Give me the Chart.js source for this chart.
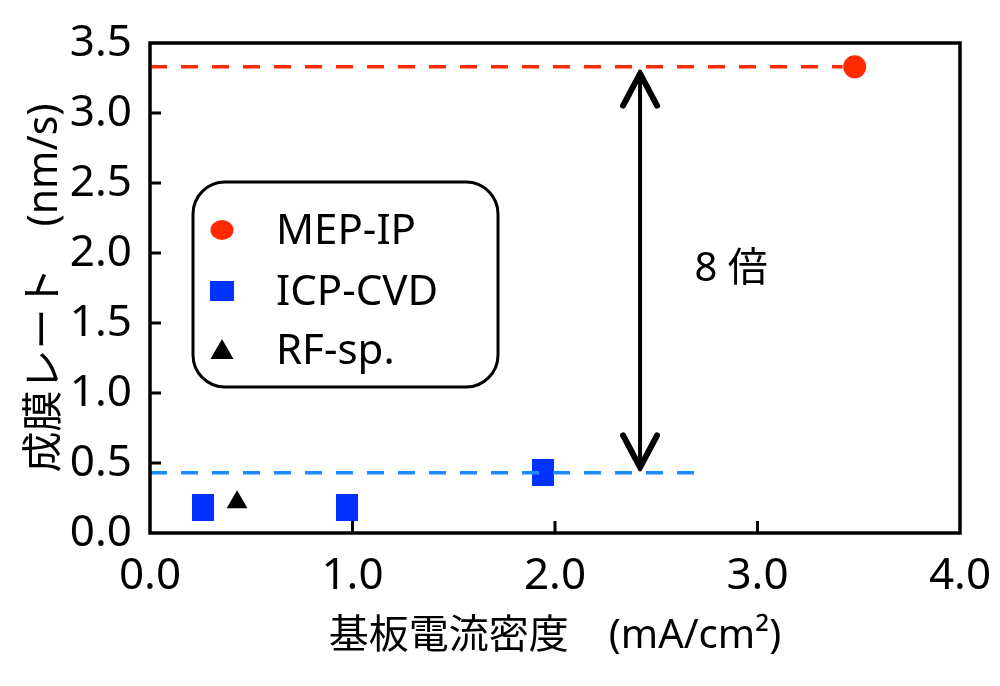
<!DOCTYPE html>
<html>
<head>
<meta charset="utf-8">
<script src="https://cdn.jsdelivr.net/npm/chart.js@4"></script>
<style>
  html, body { margin: 0; padding: 0; background: #fff; }
  #wrap { width: 1000px; height: 686px; }
</style>
</head>
<body>
<div id="wrap"><canvas id="rate" width="1000" height="686"></canvas></div>
<script>
// ********************* data ***********************
const seriesNames = ['MEP-IP', 'ICP-CVD', 'RF-sp.'];

const mepX = [3.48];
const mepY = [3.33];

const icpX = [0.26, 0.975, 1.94];
const icpY = [0.18, 0.18, 0.43];

const rfX = [0.43];
const rfY = [0.22];

// dashed reference levels
const mepLevelX = [0, 3.42];
const mepLevelY = [3.33, 3.33];
const icpLevelX = [0, 2.71];
const icpLevelY = [0.43, 0.43];

// double arrow ("8 倍")
const arrowX = 2.42;
const arrowFrom = 0.44;
const arrowTo = 3.31;
const ratioLabel = '8 倍';
const ratioPos = [2.87, 1.88];

const xTicks = [0, 1, 2, 3, 4];
const yTicks = [0, 0.5, 1, 1.5, 2, 2.5, 3, 3.5];

const FONT = '"Noto Sans", "Noto Sans CJK JP", sans-serif';
const RED = '#ff2a00';
const BLUE = '#0033ff';
const LIGHTBLUE = '#1a8cff';

const pts = (xs, ys) => xs.map((x, i) => ({ x: x, y: ys[i] }));

// blue marker is a little taller than wide
const sq = document.createElement('canvas');
sq.width = 22; sq.height = 27;
const sqc = sq.getContext('2d');
sqc.fillStyle = BLUE;
sqc.fillRect(0, 0, 22, 27);

// ********************* plugins ***********************
const framePlugin = {
  id: 'frame',
  afterDatasetsDraw(chart) {
    const { ctx, chartArea: a, scales } = chart;
    ctx.save();
    ctx.strokeStyle = '#000';
    ctx.lineWidth = 3.5;
    ctx.strokeRect(a.left, a.top, a.right - a.left, a.bottom - a.top);
    ctx.lineWidth = 3;
    ctx.beginPath();
    yTicks.forEach(v => {
      if (v === 0 || v === 3.5) return;
      const y = scales.y.getPixelForValue(v);
      ctx.moveTo(a.left, y);
      ctx.lineTo(a.left + 11, y);
    });
    xTicks.forEach(v => {
      if (v === 0 || v === 4) return;
      const x = scales.x.getPixelForValue(v);
      ctx.moveTo(x, a.bottom);
      ctx.lineTo(x, a.bottom - 12);
    });
    ctx.stroke();

    // arrow
    const ax = scales.x.getPixelForValue(arrowX);
    const y1 = scales.y.getPixelForValue(arrowFrom);
    const y2 = scales.y.getPixelForValue(arrowTo);
    ctx.lineWidth = 4;
    ctx.lineCap = 'round';
    ctx.lineJoin = 'round';
    ctx.beginPath();
    ctx.moveTo(ax, y1 - 2);
    ctx.lineTo(ax, y2 + 2);
    ctx.stroke();
    ctx.lineWidth = 6;
    ctx.beginPath();
    ctx.moveTo(ax - 17, y2 + 36);
    ctx.lineTo(ax, y2 + 4);
    ctx.lineTo(ax + 17, y2 + 36);
    ctx.moveTo(ax - 17, y1 - 36);
    ctx.lineTo(ax, y1 - 4);
    ctx.lineTo(ax + 17, y1 - 36);
    ctx.stroke();

    // ratio text
    ctx.fillStyle = '#000';
    ctx.font = '40px ' + FONT;
    ctx.textAlign = 'center';
    ctx.textBaseline = 'middle';
    ctx.fillText(ratioLabel, scales.x.getPixelForValue(ratioPos[0]), scales.y.getPixelForValue(ratioPos[1]));

    // legend box
    const lx = 193, ly = 182, lw = 305, lh = 205, r = 32;
    ctx.lineWidth = 3;
    ctx.beginPath();
    ctx.roundRect(lx, ly, lw, lh, r);
    ctx.fillStyle = '#fff';
    ctx.fill();
    ctx.stroke();
    const rows = [230, 291, 350];
    const mx = 222;
    // circle
    ctx.fillStyle = RED;
    ctx.beginPath();
    ctx.ellipse(mx, rows[0], 11.5, 10, 0, 0, Math.PI * 2);
    ctx.fill();
    // square
    ctx.fillStyle = BLUE;
    ctx.fillRect(mx - 12, rows[1] - 10, 24, 20);
    // triangle
    ctx.fillStyle = '#000';
    ctx.beginPath();
    ctx.moveTo(mx, rows[2] - 11);
    ctx.lineTo(mx + 11.5, rows[2] + 9);
    ctx.lineTo(mx - 11.5, rows[2] + 9);
    ctx.closePath();
    ctx.fill();
    ctx.font = '42px ' + FONT;
    ctx.textAlign = 'left';
    seriesNames.forEach((n, i) => ctx.fillText(n, 276, rows[i] + 2));
    ctx.restore();
  }
};

// ********************* chart ***********************
const rate = new Chart(document.getElementById('rate'), {
  type: 'scatter',
  data: {
    datasets: [
      {
        label: 'MEP-IP level', data: pts(mepLevelX, mepLevelY), showLine: true,
        borderColor: RED, borderWidth: 3.5, borderDash: [17, 14], pointRadius: 0, order: 0
      },
      {
        label: 'ICP-CVD level', data: pts(icpLevelX, icpLevelY), showLine: true,
        borderColor: LIGHTBLUE, borderWidth: 3.5, borderDash: [17, 14], pointRadius: 0, order: 0
      },
      {
        label: seriesNames[0], data: pts(mepX, mepY), pointStyle: 'circle',
        pointRadius: 11.5, backgroundColor: RED, borderWidth: 0, order: 1
      },
      {
        label: seriesNames[1], data: pts(icpX, icpY), pointStyle: sq,
        pointRadius: 13, backgroundColor: BLUE, borderWidth: 0, order: 1
      },
      {
        label: seriesNames[2], data: pts(rfX, rfY), pointStyle: 'triangle',
        pointRadius: 12, backgroundColor: '#000', borderWidth: 0, order: 1
      }
    ]
  },
  options: {
    responsive: false,
    animation: false,
    events: [],
    layout: { padding: { top: 43, right: 40, left: 0, bottom: 0 } },
    plugins: { legend: { display: false }, tooltip: { enabled: false } },
    scales: {
      x: {
        type: 'linear', min: 0, max: 4,
        afterFit: s => { s.height = 153; s.paddingRight = 0; s.paddingLeft = 0; },
        afterBuildTicks: s => { s.ticks = xTicks.map(v => ({ value: v })); },
        grid: { display: false, drawTicks: false },
        border: { display: false },
        ticks: {
          padding: 17, color: '#000', font: { family: FONT, size: 44 },
          callback: v => v.toFixed(1)
        },
        title: {
          display: true, text: '基板電流密度　(mA/cm²)', color: '#000',
          font: { family: FONT, size: 40 }, padding: { top: 0, bottom: 25 }
        }
      },
      y: {
        type: 'linear', min: 0, max: 3.5,
        afterFit: s => { s.width = 150; s.paddingTop = 0; s.paddingBottom = 0; },
        afterBuildTicks: s => { s.ticks = yTicks.map(v => ({ value: v })); },
        grid: { display: false, drawTicks: false },
        border: { display: false },
        ticks: {
          padding: 18, color: '#000', font: { family: FONT, size: 44 },
          callback: v => v.toFixed(1)
        },
        title: {
          display: true, text: '成膜レート　(nm/s)', color: '#000',
          font: { family: FONT, size: 41 }, padding: { top: 21, bottom: 0 }
        }
      }
    }
  },
  plugins: [framePlugin]
});
</script>
</body>
</html>
